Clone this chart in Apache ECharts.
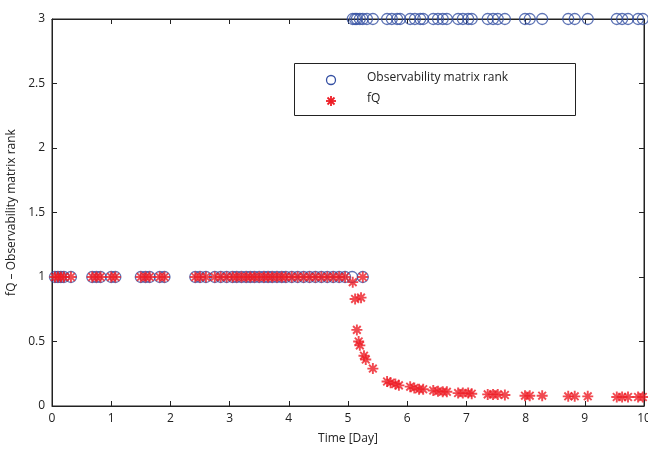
<!DOCTYPE html>
<html>
<head>
<meta charset="utf-8">
<script src="https://cdn.jsdelivr.net/npm/echarts@6/dist/echarts.min.js"></script>
<style>html,body{margin:0;padding:0;background:#fff}#c{width:648px;height:450px}</style>
</head>
<body>
<div id="c"></div>
<script>
// Observability matrix rank (time in days, rank value)
const rankTime = [0.05,0.1,0.15,0.2,0.32,0.68,0.75,0.82,1.0,1.07,1.5,1.58,1.65,1.82,1.9,
  2.42,2.5,2.6,2.75,2.85,2.95,3.05,3.12,3.2,3.28,3.35,3.42,3.5,3.58,3.65,3.72,3.8,3.88,3.95,
  4.05,4.15,4.25,4.35,4.45,4.55,4.65,4.75,4.85,4.95,5.07,5.25,
  5.08,5.12,5.15,5.2,5.25,5.32,5.42,5.66,5.74,5.83,5.88,6.05,6.13,6.22,6.27,
  6.44,6.52,6.6,6.67,6.86,6.94,7.03,7.09,7.36,7.45,7.53,7.65,7.99,8.07,8.28,
  8.72,8.83,9.05,9.54,9.63,9.73,9.9,9.98];
const rankValue = [1,1,1,1,1,1,1,1,1,1,1,1,1,1,1,
  1,1,1,1,1,1,1,1,1,1,1,1,1,1,1,1,1,1,1,
  1,1,1,1,1,1,1,1,1,1,1,1,
  3,3,3,3,3,3,3,3,3,3,3,3,3,3,3,
  3,3,3,3,3,3,3,3,3,3,3,3,3,3,3,
  3,3,3,3,3,3,3,3];
// fQ
const fqTime = [0.05,0.1,0.15,0.2,0.32,0.68,0.75,0.82,1.0,1.07,1.5,1.58,1.65,1.82,1.9,
  2.42,2.5,2.6,2.75,2.85,2.95,3.05,3.12,3.2,3.28,3.35,3.42,3.5,3.58,3.65,3.72,3.8,3.88,3.95,
  4.05,4.15,4.25,4.35,4.45,4.55,4.65,4.75,4.85,4.95,5.25,
  5.08,5.12,5.22,5.15,5.18,5.2,5.27,5.3,5.42,5.66,5.72,5.8,5.86,6.05,6.12,6.2,6.27,
  6.44,6.52,6.6,6.67,6.86,6.94,7.03,7.09,7.36,7.45,7.53,7.65,7.99,8.07,8.28,
  8.72,8.83,9.05,9.54,9.63,9.73,9.9,9.98];
const fqValue = [1,1,1,1,1,1,1,1,1,1,1,1,1,1,1,
  1,1,1,1,1,1,1,1,1,1,1,1,1,1,1,1,1,1,1,
  1,1,1,1,1,1,1,1,1,1,1,
  0.96,0.83,0.84,0.59,0.5,0.47,0.39,0.36,0.29,0.19,0.18,0.17,0.16,0.15,0.14,0.13,0.13,
  0.12,0.115,0.11,0.11,0.1,0.1,0.1,0.095,0.09,0.09,0.09,0.085,0.08,0.08,0.08,
  0.075,0.075,0.075,0.07,0.07,0.07,0.07,0.07];
const xTicks = [0,1,2,3,4,5,6,7,8,9,10];
const yTicks = [0,0.5,1,1.5,2,2.5,3];
const seriesNames = ['Observability matrix rank','fQ'];

const BLUE = '#3550a3', RED = '#ee1d25', INK = '#222';
const FONT = 'Open Sans';
const ASTER = 'path://M5,0L5,10M0,5L10,5M1.5,1.5L8.5,8.5M1.5,8.5L8.5,1.5';

const chart = echarts.init(document.getElementById('c'), null, {renderer:'canvas'});
const axLine = {show:true, onZero:false, lineStyle:{color:INK, width:1}};
const tick = {show:true, inside:true, length:5, lineStyle:{color:INK, width:1}};
const lbl = {color:INK, fontFamily:FONT, fontSize:12};

function asteriskLines(cx, cy, r, d) {
  const s = {stroke:RED, lineWidth:1.8};
  return [
    {type:'line', shape:{x1:cx, y1:cy-r, x2:cx, y2:cy+r}, style:s, z:11},
    {type:'line', shape:{x1:cx-r, y1:cy, x2:cx+r, y2:cy}, style:s, z:11},
    {type:'line', shape:{x1:cx-d, y1:cy-d, x2:cx+d, y2:cy+d}, style:s, z:11},
    {type:'line', shape:{x1:cx-d, y1:cy+d, x2:cx+d, y2:cy-d}, style:s, z:11}
  ];
}

chart.setOption({
  animation:false,
  backgroundColor:'#fff',
  grid:{left:52, right:4, top:19, bottom:44, containLabel:false, outerBoundsMode:'none',
        show:true, borderColor:INK, borderWidth:1, backgroundColor:'transparent'},
  xAxis:[
    {type:'value', min:0, max:10, interval:1, position:'bottom',
     axisLine:axLine, axisTick:tick, splitLine:{show:false},
     axisLabel:Object.assign({margin:7, formatter:v=>xTicks.includes(v)?String(v):''}, lbl),
     name:'Time [Day]', nameLocation:'middle', nameGap:27,
     nameTextStyle:{color:INK, fontFamily:FONT, fontSize:12}},
    {type:'value', min:0, max:10, interval:1, position:'top',
     axisLine:axLine, axisTick:tick, splitLine:{show:false}, axisLabel:{show:false}}
  ],
  yAxis:[
    {type:'value', min:0, max:3, interval:0.5, position:'left',
     axisLine:axLine, axisTick:tick, splitLine:{show:false},
     axisLabel:Object.assign({margin:7, formatter:v=>yTicks.includes(v)?String(v):''}, lbl),
     name:'fQ \u2013 Observability matrix rank', nameLocation:'middle', nameGap:30,
     nameTextStyle:{color:INK, fontFamily:FONT, fontSize:12}},
    {type:'value', min:0, max:3, interval:0.5, position:'right',
     axisLine:axLine, axisTick:tick, splitLine:{show:false}, axisLabel:{show:false}}
  ],
  series:[
    {name:seriesNames[0], type:'scatter', symbol:'circle', symbolSize:11,
     itemStyle:{color:'rgba(0,0,0,0)', borderColor:BLUE, borderWidth:1.3},
     data: rankTime.map((t,i)=>[t, rankValue[i]])},
    {name:seriesNames[1], type:'scatter', symbol:ASTER, symbolSize:11,
     itemStyle:{color:'rgba(0,0,0,0)', borderColor:RED, borderWidth:1.9},
     data: fqTime.map((t,i)=>[t, fqValue[i]])},
    {type:'scatter', xAxisIndex:1, yAxisIndex:1, data:[], silent:true}
  ],
  graphic:[
    {type:'rect', shape:{x:294.5, y:63.5, width:281, height:52},
     style:{fill:'#fff', stroke:INK, lineWidth:1}, z:10},
    {type:'circle', shape:{cx:331, cy:80, r:4.5},
     style:{fill:'none', stroke:BLUE, lineWidth:1.3}, z:11}
  ].concat(asteriskLines(331, 101, 5, 3.5)).concat([
    {type:'text', x:367, y:72, style:{text:seriesNames[0], fill:INK, font:'12px "Open Sans"'}, z:11},
    {type:'text', x:367, y:93, style:{text:seriesNames[1], fill:INK, font:'12px "Open Sans"'}, z:11}
  ])
});
</script>
</body>
</html>
